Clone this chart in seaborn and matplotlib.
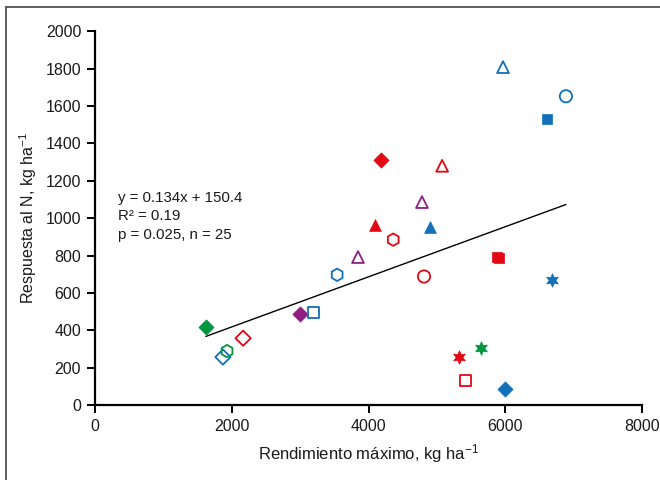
import numpy as np
import matplotlib.pyplot as plt
import seaborn as sns
from matplotlib.lines import Line2D

# rendimiento maximo (kg/ha) and respuesta al N (kg/ha), one entry per point
rend = [1620, 1870, 1930, 2165, 3000, 3200, 3540, 3845, 4095, 4180, 4360,
        4780, 4810, 4900, 5075, 5320, 5410, 5645, 5880, 5905, 5965, 5995,
        6610, 6680, 6885]
resp = [418, 257, 289, 358, 487, 497, 697, 792, 963, 1310, 885,
        1086, 688, 952, 1280, 257, 134, 305, 791, 785, 1808, 88,
        1533, 668, 1652]
grupo = ['green', 'blue', 'green', 'red', 'purple', 'blue', 'blue', 'purple', 'red', 'red', 'red',
         'purple', 'red', 'blue', 'red', 'red', 'red', 'green', 'red', 'red', 'blue', 'blue',
         'blue', 'blue', 'blue']
forma = ['D', 'D', 'h', 'D', 'D', 's', 'h', '^', '^', 'D', 'h',
         '^', 'o', '^', '^', '*', 's', '*', 's', 's', '^', 'D',
         's', '*', 'o']
lleno = [1, 0, 0, 0, 1, 0, 0, 0, 1, 1, 0,
         0, 0, 1, 0, 1, 0, 1, 1, 1, 0, 1,
         1, 1, 0]

# regression from the chart annotation
pendiente = 0.134
intercepto = 150.4

colores = {'red': '#E30613', 'blue': '#1170B8', 'green': '#009640', 'purple': '#8E1E80'}
tam = {'D': 60, 's': 62, '^': 72, 'o': 78, 'h': 80, '*': 95}
marcas = {'D': 'D', 's': 's', '^': '^', 'o': 'o', 'h': 'h', '*': (6, 1, 0)}

sns.set_style('ticks')
plt.rcParams['font.family'] = ['Liberation Sans', 'DejaVu Sans']
plt.rcParams['mathtext.fontset'] = 'custom'
plt.rcParams['mathtext.rm'] = 'Liberation Sans'
plt.rcParams['mathtext.it'] = 'Liberation Sans:italic'

fig = plt.figure(figsize=(6.6, 4.8), dpi=100)
ax = fig.add_axes([0.144, 0.156, 0.829, 0.779])

# trend line over the range of the data
xl = np.array([min(rend), max(rend)])
sns.lineplot(x=xl, y=pendiente * xl + intercepto, color='black', lw=1.0, ax=ax)

for xv, yv, g, f, fl in zip(rend, resp, grupo, forma, lleno):
    c = colores[g]
    if fl:
        sns.scatterplot(x=[xv], y=[yv], marker=marcas[f], s=tam[f], color=c,
                        edgecolor=c, linewidth=0.5, ax=ax, zorder=3)
    else:
        sns.scatterplot(x=[xv], y=[yv], marker=marcas[f], s=tam[f],
                        facecolors='none', edgecolors=c, linewidth=1.3, ax=ax, zorder=3)

ax.set_xlim(0, 8000)
ax.set_ylim(0, 2000)
ax.set_xticks(range(0, 8001, 2000))
ax.set_yticks(range(0, 2001, 200))
sns.despine(ax=ax)
for s in ['left', 'bottom']:
    ax.spines[s].set_linewidth(1.6)
    ax.spines[s].set_color('black')
ax.tick_params(direction='out', length=6, width=1.4, color='black',
               labelsize=11.5, labelcolor='#1a1a1a', pad=4)
ax.set_xlabel('Rendimiento máximo, kg ha$^{-1}$', fontsize=12, color='#1a1a1a', labelpad=6)
ax.set_ylabel('Respuesta al N, kg ha$^{-1}$', fontsize=11.5, color='#1a1a1a', labelpad=5)

ax.text(330, 1010, 'y = 0.134x + 150.4\nR² = 0.19\np = 0.025, n = 25',
        fontsize=10.8, color='#1a1a1a', va='center', ha='left', linespacing=1.4)

# frame of the original figure (top and left edges only)
fig.add_artist(Line2D([6 / 660, 6 / 660], [0, 1 - 7 / 480], transform=fig.transFigure,
                      color='#444444', lw=1.2))
fig.add_artist(Line2D([6 / 660, 1], [1 - 7 / 480, 1 - 7 / 480], transform=fig.transFigure,
                      color='#444444', lw=1.2))

fig.savefig('out.png', dpi=100)
